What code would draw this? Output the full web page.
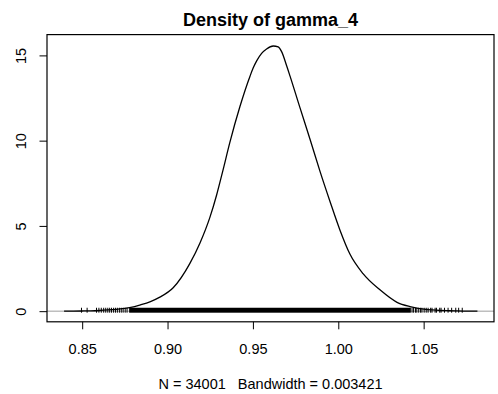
<!DOCTYPE html>
<html>
    <head>
        <meta charset="utf-8" />
        <title>Density of gamma_4</title>

        <style type="text/css">
            body {
                margin: 0;
                background-color: #fff;
            }
            svg {
                display: block;
                background-color: #fff;
                font-family: "Liberation Sans", Arial, Helvetica, sans-serif;
            }
            .axis text {
                font-size: 14.5px;
                fill: #000;
            }
            .axis line {
                stroke: #000;
            }
            .xlab {
                white-space: pre;
            }
        </style>

        <script
            type="text/javascript"
            src="https://d3js.org/d3.v7.min.js"
        ></script>
    </head>
    <body>
        <div id="chart"></div>

        <script type="text/javascript">
            // density estimate
            var densX = [
                0.8394, 0.845, 0.85, 0.855, 0.86, 0.865, 0.87, 0.875,
                0.8785, 0.8838, 0.89, 0.8955, 0.9033, 0.9131, 0.919,
                0.9248, 0.9287, 0.9323, 0.9365, 0.9424, 0.9483, 0.9502,
                0.9522, 0.9551, 0.958, 0.9619, 0.9648, 0.9668, 0.9698,
                0.9717, 0.9775, 0.9834, 0.9893, 0.9951, 1.001, 1.0068,
                1.0145, 1.0244, 1.0344, 1.042, 1.046, 1.05, 1.055, 1.06,
                1.065, 1.07, 1.075, 1.0815
            ];
            var densY = [
                0.0, 0.003, 0.01, 0.02, 0.04, 0.07, 0.11, 0.16,
                0.22, 0.36, 0.56, 0.82, 1.37, 2.8, 4.0,
                5.5, 6.8, 8.2, 9.9, 12.0, 13.78, 14.27,
                14.68, 15.12, 15.38, 15.55, 15.5, 15.22, 14.38,
                13.8, 11.95, 10.1, 8.2, 6.45, 4.75, 3.35,
                2.2, 1.25, 0.52, 0.27, 0.18, 0.12, 0.07, 0.04,
                0.025, 0.012, 0.005, 0.0
            ];

            // observations: dense core range plus the sparse tails
            var rugCore = [0.8775, 1.0425];
            var rugTails = [
                0.8496, 0.8529, 0.8584, 0.8598, 0.8612, 0.8626, 0.8638,
                0.865, 0.8661, 0.8672, 0.8684, 0.8695, 0.8706, 0.8718,
                0.8729, 0.874, 0.8752, 0.8763,
                1.0432, 1.0441, 1.0452, 1.046, 1.0471, 1.0482, 1.049,
                1.0503, 1.0515, 1.0526, 1.0541, 1.0549, 1.0567, 1.0575,
                1.0594, 1.0602, 1.0622, 1.0643, 1.0664, 1.0688, 1.0705,
                1.0726
            ];

            var xTicks = [0.85, 0.9, 0.95, 1.0, 1.05];
            var yTicks = [0, 5, 10, 15];

            var titleText = "Density of gamma_4";
            var xLabel = "N = 34001   Bandwidth = 0.003421";

            var width = 498,
                height = 394,
                plotLeft = 47,
                plotRight = 494,
                plotTop = 34.6,
                plotBottom = 321.8;

            var svg = d3
                .select("#chart")
                .append("svg")
                .attr("width", width)
                .attr("height", height);

            var xScale = d3
                .scaleLinear()
                .domain([0.8294, 1.0912])
                .range([plotLeft, plotRight]);

            var yScale = d3
                .scaleLinear()
                .domain([-0.624, 16.22])
                .range([plotBottom, plotTop]);

            // zero line
            svg.append("line")
                .attr("x1", plotLeft)
                .attr("x2", plotRight)
                .attr("y1", yScale(0))
                .attr("y2", yScale(0))
                .attr("stroke", "#bebebe")
                .attr("stroke-width", 1.5);

            // rug (type = "h" lines)
            var rugLow = yScale(-0.09),
                rugHigh = yScale(0.2);

            svg.append("rect")
                .attr("x", xScale(rugCore[0]))
                .attr("width", xScale(rugCore[1]) - xScale(rugCore[0]))
                .attr("y", rugHigh)
                .attr("height", rugLow - rugHigh)
                .attr("fill", "#000");

            svg.selectAll(".rug")
                .data(rugTails)
                .enter()
                .append("line")
                .attr("class", "rug")
                .attr("x1", function (d) {
                    return xScale(d);
                })
                .attr("x2", function (d) {
                    return xScale(d);
                })
                .attr("y1", rugLow)
                .attr("y2", rugHigh)
                .attr("stroke", "#000")
                .attr("stroke-width", 1);

            // density curve
            var line = d3
                .line()
                .x(function (d, i) {
                    return xScale(densX[i]);
                })
                .y(function (d) {
                    return yScale(d);
                })
                .curve(d3.curveMonotoneX);

            svg.append("path")
                .datum(densY)
                .attr("d", line)
                .attr("fill", "none")
                .attr("stroke", "#000")
                .attr("stroke-width", 1.3);

            // box
            svg.append("rect")
                .attr("x", plotLeft)
                .attr("y", plotTop)
                .attr("width", plotRight - plotLeft)
                .attr("height", plotBottom - plotTop)
                .attr("fill", "none")
                .attr("stroke", "#000")
                .attr("stroke-width", 1.2);

            var xAxis = d3
                .axisBottom(xScale)
                .tickValues(xTicks)
                .tickSize(7.5)
                .tickPadding(14)
                .tickFormat(d3.format(".2f"));

            var xAxisG = svg
                .append("g")
                .attr("class", "axis")
                .attr("transform", "translate(0," + plotBottom + ")")
                .call(xAxis);
            xAxisG.select(".domain").remove();
            xAxisG.attr("font-family", null);

            var yAxis = d3
                .axisLeft(yScale)
                .tickValues(yTicks)
                .tickSize(7.5);

            var yAxisG = svg
                .append("g")
                .attr("class", "axis")
                .attr("transform", "translate(" + plotLeft + ",0)")
                .call(yAxis);
            yAxisG.select(".domain").remove();
            yAxisG.attr("font-family", null);
            yAxisG
                .selectAll("text")
                .attr("transform", "rotate(-90)")
                .attr("x", 0)
                .attr("y", -26.5)
                .attr("dy", "0.35em")
                .attr("text-anchor", "middle");

            svg.append("text")
                .attr("x", (plotLeft + plotRight) / 2)
                .attr("y", 26)
                .attr("text-anchor", "middle")
                .attr("font-size", "18px")
                .attr("font-weight", "bold")
                .text(titleText);

            svg.append("text")
                .attr("class", "xlab")
                .attr("x", (plotLeft + plotRight) / 2)
                .attr("y", 389)
                .attr("text-anchor", "middle")
                .attr("font-size", "14.5px")
                .text(xLabel);
        </script>
    </body>
</html>
